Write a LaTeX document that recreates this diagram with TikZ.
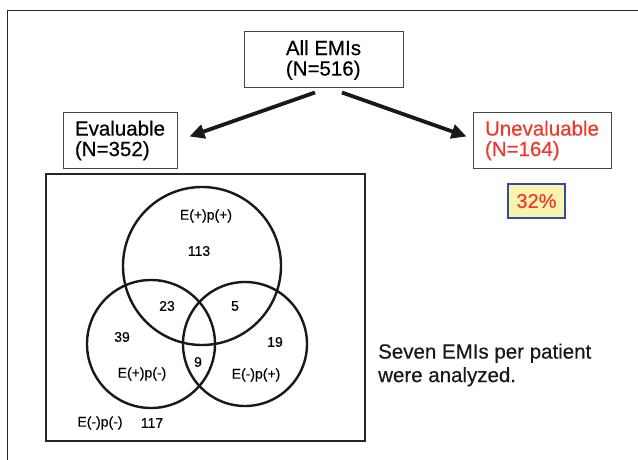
\documentclass[tikz,border=0pt]{standalone}
\usepackage{fontspec}
\setmainfont{Liberation Sans}[UprightFeatures={FakeBold=0.45}]
\usetikzlibrary{arrows.meta,calc}
\definecolor{redtxt}{RGB}{236,58,44}
\definecolor{paleyel}{RGB}{248,244,176}
\definecolor{bluebd}{RGB}{48,78,160}
\definecolor{boxgray}{RGB}{70,70,70}
\begin{document}
\begin{tikzpicture}[x=1pt,y=-1pt,
  bigtxt/.style={font=\fontsize{20.5}{20.5}\selectfont},
  flowbox/.style={draw=boxgray,line width=1pt,bigtxt,align=left,inner sep=0pt},
  bigarrow/.style={line width=3.8pt,draw=black!90,-{Triangle[length=15pt,width=14pt]}},
  venncirc/.style={draw=black!90,line width=2.4pt},
  vtxt/.style={font=\fontsize{14}{16}\selectfont}]
\useasboundingbox (0,0) rectangle (638,460);
% outer frame (left and top edges only)
\draw[draw=black!85,line width=1.4pt] (7.5,460) -- (7.5,10.5) -- (638,10.5);
% flow boxes
\node[flowbox,minimum width=159pt,minimum height=56pt] (all) at (323.5,60) {All EMIs\\(N=516)};
\node[flowbox,minimum width=114pt,minimum height=55pt] (eval) at (120,140.5) {Evaluable\\(N=352)};
\node[flowbox,minimum width=138pt,minimum height=55pt,text=redtxt] (unev) at (542,140.5) {Unevaluable\\(N=164)};
% arrows
\draw[bigarrow] ($(all.south)+(-8.5,4)$) -- ($(eval.north east)+(12,24)$);
\draw[bigarrow] ($(all.south)+(18.5,4)$) -- ($(unev.north west)+(-6,24)$);
% percentage
\node[draw=bluebd,fill=paleyel,line width=1.8pt,minimum width=57pt,minimum height=34pt,inner sep=0pt,
      text=redtxt,font=\fontsize{20}{24}\selectfont] (pct) at (536.5,201) {32\%};
% venn frame
\node[draw=black!85,line width=1.4pt,minimum width=319pt,minimum height=267pt,inner sep=0pt] (vbox) at (205.5,307.5) {};
% circles
\draw[venncirc] (202,266) circle[radius=79];
\draw[venncirc] (151,344) circle[radius=64];
\draw[venncirc] (245,344) circle[radius=62];
% venn labels
\node[vtxt] (lpp) at (206,216) {E(+)p(+)};
\node[vtxt] (n113) at (199,251) {113};
\node[vtxt] (n23) at (167,306) {23};
\node[vtxt] (n5) at (235,306) {5};
\node[vtxt] (n39) at (122,337) {39};
\node[vtxt] (n19) at (275,342) {19};
\node[vtxt] (n9) at (198,362) {9};
\node[vtxt] (lpm) at (142,374) {E(+)p(-)};
\node[vtxt] (lmp) at (256,375) {E(-)p(+)};
\node[vtxt] (lmm) at (100,423) {E(-)p(-)};
\node[vtxt] (n117) at (152,423) {117};
% note
\node[font=\fontsize{20.5}{23.5}\selectfont,align=left,anchor=west,text=black!90,inner sep=0pt] (note) at (378,365) {Seven EMIs per patient\\were analyzed.};
\end{tikzpicture}
\end{document}
